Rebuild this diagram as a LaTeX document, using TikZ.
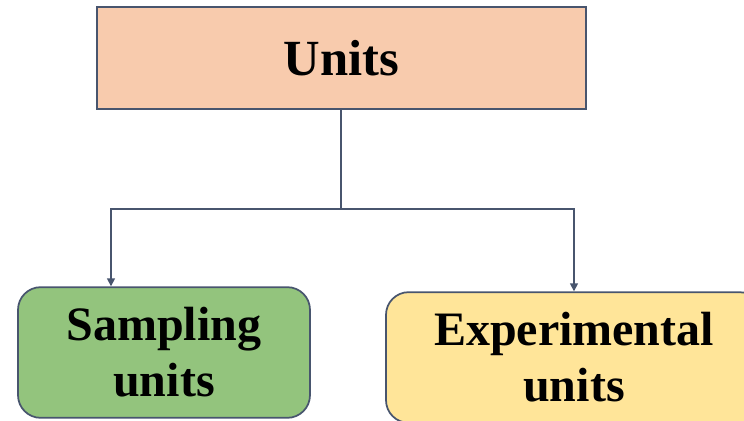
\documentclass[tikz,border=0pt]{standalone}
\usepackage{fontspec}
\setmainfont{Liberation Serif}
\usetikzlibrary{arrows.meta}
\definecolor{edge}{HTML}{48556E}
\definecolor{peach}{HTML}{F8CBAD}
\definecolor{leaf}{HTML}{93C47D}
\definecolor{sand}{HTML}{FFE599}
\tikzset{
  unitbox/.style={draw=edge, line width=1.3pt, align=center, inner sep=0pt,
    font=\bfseries\fontsize{36}{42}\selectfont},
  link/.style={edge, line width=1.2pt},
  tip/.style={link, -{Triangle[length=6pt,width=6pt]}}
}
\begin{document}
\begin{tikzpicture}[x=0.75pt,y=-0.75pt]
\useasboundingbox (0,0) rectangle (744,421);
\node[unitbox, fill=peach, minimum width=367pt, minimum height=76.5pt, font=\bfseries\fontsize{38}{42}\selectfont] (units) at (341.5,58) {Units};
\node[unitbox, fill=leaf, rounded corners=17pt, minimum width=219pt, minimum height=98pt] (sampling) at (164,352.5) {Sampling\\units};
\node[unitbox, fill=sand, rounded corners=17pt, minimum width=282pt, minimum height=98pt] (experimental) at (574,357.5) {Experimental\\units};
\coordinate (split) at (341,209);
\coordinate (sampin) at ([xshift=-39.75pt]sampling.north);
\draw[link] (units.south -| split) -- (split);
\draw[tip] (split) -| (sampin);
\draw[tip] (split) -| (experimental.north);
\end{tikzpicture}
\end{document}
